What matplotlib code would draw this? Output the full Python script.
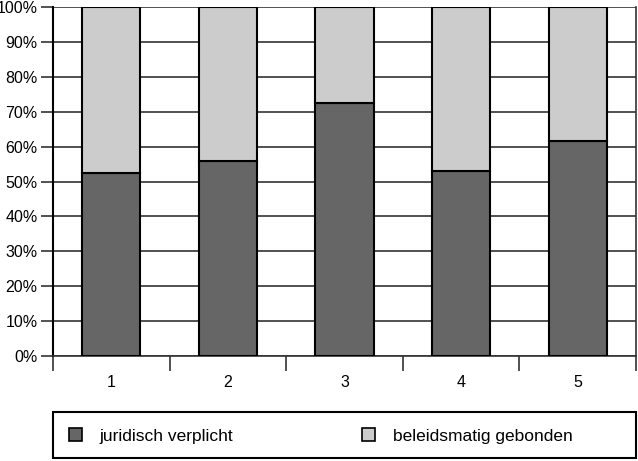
import numpy as np
import matplotlib
matplotlib.use("Agg")
import matplotlib.pyplot as plt
from matplotlib.patches import Rectangle
from matplotlib.ticker import FixedLocator, NullFormatter

categories = ['1', '2', '3', '4', '5']
juridisch = [52.4, 55.9, 72.5, 53.0, 61.6]
beleid = [100 - v for v in juridisch]
labels = ['juridisch verplicht', 'beleidsmatig gebonden']
yticks = [0, 10, 20, 30, 40, 50, 60, 70, 80, 90, 100]

plt.rcParams['font.family'] = ['Liberation Sans', 'DejaVu Sans']

W, H = 638, 461
fig = plt.figure(figsize=(W / 100, H / 100), dpi=100)
ax = fig.add_axes([53 / W, 1 - 356 / H, 583 / W, 349 / H])

x = np.arange(len(categories))
ax.bar(x, juridisch, width=0.5, color='#666666', edgecolor='black', linewidth=1.5,
       label=labels[0], zorder=3)
ax.bar(x, beleid, width=0.5, bottom=juridisch, color='#cccccc', edgecolor='black',
       linewidth=1.5, label=labels[1], zorder=3)

ax.set_xlim(-0.5, len(categories) - 0.5)
ax.set_ylim(0, 100)
ax.set_yticks(yticks)
ax.set_yticklabels([f'{t}%' for t in yticks], fontsize=11.5)
ax.yaxis.grid(True, color='#333333', linewidth=1.2, zorder=0)

ax.set_xticks(x)
ax.set_xticklabels(categories, fontsize=11.5)
ax.tick_params(axis='x', which='major', length=0, pad=14)
ax.xaxis.set_minor_locator(FixedLocator(np.arange(-0.5, len(categories), 1.0)))
ax.xaxis.set_minor_formatter(NullFormatter())
ax.tick_params(axis='x', which='minor', length=11, width=1.2, color='#333333')
ax.tick_params(axis='y', length=9, width=1.2, color='#333333', pad=2)

ax.spines['top'].set_visible(False)
ax.spines['left'].set_linewidth(1.5)
ax.spines['bottom'].set_linewidth(1.2)
ax.spines['bottom'].set_color('#333333')
ax.spines['right'].set_linewidth(1.2)
ax.spines['right'].set_color('#333333')

# legend frame spanning the plot width
fig.patches.append(Rectangle((53 / W, 1 - 458 / H), 583 / W, 46 / H,
                             transform=fig.transFigure, fill=False,
                             edgecolor='black', linewidth=1.5))

leg = fig.legend(loc='center left', ncol=2, bbox_to_anchor=(69 / W, 1 - 436 / H),
                 fontsize=12.5, frameon=False, borderaxespad=0, borderpad=0,
                 handlelength=0.75, handleheight=0.75, handletextpad=1.0,
                 columnspacing=7.45)
for h in leg.legend_handles:
    h.set_linewidth(1.2)

fig.savefig('out.png', dpi=100)
